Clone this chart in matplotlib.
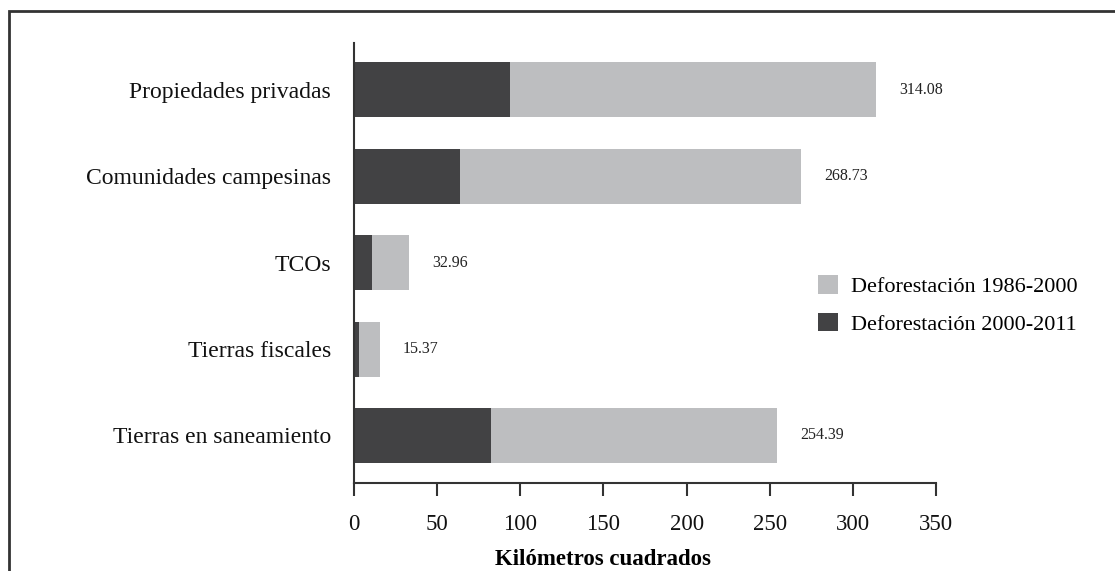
import matplotlib
matplotlib.use("Agg")
import matplotlib.pyplot as plt
from matplotlib.patches import Rectangle, Patch

# Deforestation by land tenure category (km²)
categories = [
    "Propiedades privadas",
    "Comunidades campesinas",
    "TCOs",
    "Tierras fiscales",
    "Tierras en saneamiento",
]
totals = [314.08, 268.73, 32.96, 15.37, 254.39]
defor_2000_2011 = [93.8, 63.7, 10.8, 3.0, 82.4]
defor_1986_2000 = [t - d for t, d in zip(totals, defor_2000_2011)]
total_labels = ["314.08", "268.73", "32.96", "15.37", "254.39"]
xticks = [0, 50, 100, 150, 200, 250, 300, 350]

dark = "#424244"
light = "#bdbec0"

plt.rcParams["font.family"] = ["Liberation Serif", "DejaVu Serif"]

fig = plt.figure(figsize=(11.15, 5.71), dpi=100)
ax = fig.add_axes([0.3175, 0.1541, 0.522, 0.7706])

# frame around the figure (only left and top edges fall inside the canvas)
fig.patches.append(Rectangle((8.5 / 1115, -0.1), 1.2, 1 - 10.5 / 571 + 0.1,
                             transform=fig.transFigure, fill=False,
                             edgecolor="#333333", linewidth=2.0, zorder=0))

y = list(range(len(categories)))
ax.barh(y, defor_2000_2011, height=0.636, color=dark, zorder=2)
ax.barh(y, defor_1986_2000, left=defor_2000_2011, height=0.636, color=light, zorder=2)

for yi, t, lab in zip(y, totals, total_labels):
    ax.text(t + 14, yi, lab, va="center", ha="left", fontsize=11.5, color="#222222")

ax.set_ylim(4.55, -0.54)
ax.set_xlim(0, 350)
ax.set_yticks(y)
ax.set_yticklabels(categories, fontsize=17, color="#111111")
ax.set_xticks(xticks)
ax.set_xticklabels([str(v) for v in xticks], fontsize=16.5, color="#111111")
ax.tick_params(axis="y", length=0, pad=16.5)
ax.tick_params(axis="x", length=9, width=1.5, color="#333333", pad=13)

for s in ["top", "right"]:
    ax.spines[s].set_visible(False)
for s in ["left", "bottom"]:
    ax.spines[s].set_color("#333333")
    ax.spines[s].set_linewidth(1.5)

ax.set_xlabel("Kilómetros cuadrados", fontsize=16.5, fontweight="bold")
ax.xaxis.set_label_coords(0.428, -0.149)

handles = [Patch(facecolor=light, label="Deforestación 1986-2000"),
           Patch(facecolor=dark, label="Deforestación 2000-2011")]
ax.legend(handles=handles, loc="center left", bbox_to_anchor=(0.797, 0.4045),
          frameon=False, fontsize=16, handlelength=0.9, handleheight=0.9,
          handletextpad=0.59, labelspacing=0.7, borderpad=0, borderaxespad=0)

fig.savefig("out.png", dpi=100)
